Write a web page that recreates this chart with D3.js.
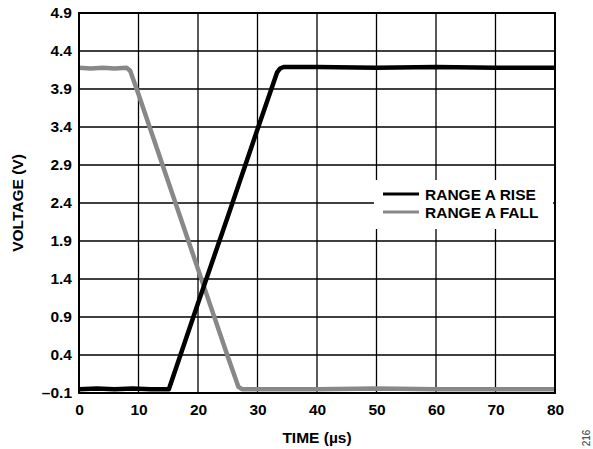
<!DOCTYPE html>
<html><head><meta charset="utf-8">
<script src="https://cdn.jsdelivr.net/npm/d3@7"></script>
<style>body{margin:0;background:#fff}svg{display:block}text{font-family:"Liberation Sans",Arial,sans-serif}</style>
</head><body><svg id="c" width="593" height="449"></svg>
<script>
const xTicks=[0,10,20,30,40,50,60,70,80];
const yTicks=[-0.1,0.4,0.9,1.4,1.9,2.4,2.9,3.4,3.9,4.4,4.9];
const seriesNames=["RANGE A RISE","RANGE A FALL"];
const riseT=[0,3,6,9,12,15.1,20,25,30,33.3,33.8,34.4,40,50,60,70,80];
const riseV=[-0.05,-0.04,-0.05,-0.04,-0.05,-0.05,1.08,2.22,3.37,4.12,4.17,4.19,4.19,4.18,4.19,4.18,4.18];
const fallT=[0,2,4,6,8.0,8.6,10,15,20,25,26.8,27.4,30,40,50,60,70,80];
const fallV=[4.18,4.17,4.18,4.17,4.18,4.14,3.83,2.68,1.53,0.38,-0.02,-0.05,-0.05,-0.05,-0.04,-0.05,-0.05,-0.05];

const svg=d3.select("#c");
const L=79,R=555,T=13,B=393;
const FS=15.5;
const x=d3.scaleLinear().domain([0,80]).range([L,R]);
const y=d3.scaleLinear().domain([-0.1,4.9]).range([B,T]);
const fmt=v=>v<0?"\u2013"+Math.abs(v).toFixed(1):v.toFixed(1);

const g=svg.append("g");
g.selectAll("line.v").data(xTicks).enter().append("line")
 .attr("x1",d=>x(d)).attr("x2",d=>x(d)).attr("y1",T).attr("y2",B)
 .attr("stroke","#000").attr("stroke-width",1.3);
g.selectAll("line.h").data(yTicks).enter().append("line")
 .attr("y1",d=>y(d)).attr("y2",d=>y(d)).attr("x1",L).attr("x2",R)
 .attr("stroke","#000").attr("stroke-width",1.3);

svg.append("rect").attr("x",374).attr("y",180).attr("width",179).attr("height",49).attr("fill","#fff");

const line=d3.line().x(d=>x(d[0])).y(d=>y(d[1]));
svg.append("path").datum(fallT.map((t,i)=>[t,fallV[i]])).attr("d",line)
 .attr("fill","none").attr("stroke","#888").attr("stroke-width",4.5).attr("stroke-linejoin","round");
svg.append("path").datum(riseT.map((t,i)=>[t,riseV[i]])).attr("d",line)
 .attr("fill","none").attr("stroke","#000").attr("stroke-width",4.5).attr("stroke-linejoin","round");

svg.append("rect").attr("x",L).attr("y",T).attr("width",R-L).attr("height",B-T)
 .attr("fill","none").attr("stroke","#000").attr("stroke-width",2);

const xa=d3.axisBottom(x).tickValues(xTicks).tickSize(0).tickPadding(11).tickFormat(d3.format("d"));
const xg=svg.append("g").attr("transform",`translate(0,${B})`).call(xa);
xg.select(".domain").remove();
xg.selectAll("text").attr("font-size",FS).attr("font-weight","bold").attr("fill","#000")
 .attr("font-family","Liberation Sans, Arial, sans-serif");
const ya=d3.axisLeft(y).tickValues(yTicks).tickSize(0).tickPadding(7).tickFormat(fmt);
const yg=svg.append("g").attr("transform",`translate(${L},0)`).call(ya);
yg.select(".domain").remove();
yg.selectAll("text").attr("font-size",FS).attr("font-weight","bold").attr("fill","#000")
 .attr("font-family","Liberation Sans, Arial, sans-serif");

svg.append("text").attr("x",(L+R)/2).attr("y",443).attr("text-anchor","middle")
 .attr("font-size",FS).attr("font-weight","bold").text("TIME (µs)");
svg.append("text").attr("transform",`translate(23,${(T+B)/2}) rotate(-90)`).attr("text-anchor","middle")
 .attr("font-size",FS).attr("font-weight","bold").text("VOLTAGE (V)");
svg.append("text").attr("transform","translate(590,438) rotate(-90)").attr("text-anchor","middle")
 .attr("font-size",10).attr("fill","#333").text("216");

const leg=[{n:seriesNames[0],c:"#000",yy:194},{n:seriesNames[1],c:"#888",yy:212}];
leg.forEach(d=>{
 svg.append("line").attr("x1",383).attr("x2",419).attr("y1",d.yy).attr("y2",d.yy).attr("stroke",d.c).attr("stroke-width",3);
 svg.append("text").attr("x",425).attr("y",d.yy+5.5).attr("font-size",FS).attr("font-weight","bold").text(d.n);
});
</script></body></html>
